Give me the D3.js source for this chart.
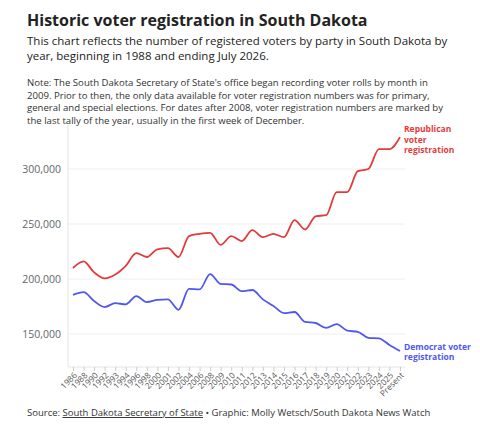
<!DOCTYPE html><html><head><meta charset="utf-8">
<script src="https://cdn.jsdelivr.net/npm/d3@7"></script>
<style>body{margin:0;background:#fff;font-family:"Open Sans",sans-serif}</style></head><body>
<svg id="c" width="480" height="425"></svg>
<script>
const categories=["1986","1988","1990","1992","1993","1994","1996","1998","2000","2001","2002","2004","2006","2008","2009","2010","2011","2012","2013","2014","2015","2016","2017","2018","2019","2020","2021","2022","2023","2024","2025","Present"];
const republican=[210000,216000,206000,200500,204000,212000,223500,220000,227000,228000,220000,239000,241000,242000,231000,239000,234500,244500,238000,241000,238000,253500,245000,257000,258000,279000,279000,298000,300000,318000,318000,329000];
const democrat=[185500,188000,180000,174500,178000,177000,184500,179000,181000,181500,172000,191000,190500,204500,195500,195000,189000,190000,181500,175500,169000,170000,161000,160000,155500,159000,153000,152000,146500,146000,140000,134500];
const yTicks=[150000,200000,250000,300000];
const svg=d3.select("#c");
const x=d3.scalePoint().domain(categories).range([73,400]);
const y=d3.scaleLinear().domain([120000,340000]).range([367,125]);
const t=(s,xx,yy,sz,w,c)=>svg.append("text").attr("x",xx).attr("y",yy).attr("font-size",sz).attr("font-weight",w||400).attr("fill",c||"#222").text(s);
t("Historic voter registration in South Dakota",27,26,16,700,"#222");
["This chart reflects the number of registered voters by party in South Dakota by","year, beginning in 1988 and ending July 2026."].forEach((s,i)=>t(s,27,45+i*15,11.5,400,"#222"));
["Note: The South Dakota Secretary of State's office began recording voter rolls by month in","2009. Prior to then, the only data available for voter registration numbers was for primary,","general and special elections. For dates after 2008, voter registration numbers are marked by","the last tally of the year, usually in the first week of December."].forEach((s,i)=>t(s,27,86+i*12.5,9.6,400,"#333"));
const g=svg.append("g");
yTicks.forEach(v=>{g.append("line").attr("x1",68).attr("x2",405).attr("y1",y(v)).attr("y2",y(v)).attr("stroke","#eee");
 g.append("text").attr("x",61).attr("y",y(v)+4).attr("text-anchor","end").attr("font-size",10.5).attr("fill","#666").text(d3.format(",")(v));});
g.append("line").attr("x1",68).attr("x2",68).attr("y1",125).attr("y2",367).attr("stroke","#e5e5e5");
const ax=svg.append("g").attr("transform","translate(0,367)").call(d3.axisBottom(x).tickSize(4).tickSizeOuter(0));
ax.select(".domain").attr("stroke","#e5e5e5").attr("d","M68,0H405");
ax.selectAll(".tick line").attr("stroke","#ccc");
ax.selectAll("text").attr("font-size",8.3).attr("fill","#555").attr("font-family","Open Sans").attr("text-anchor","end").attr("x",0).attr("y",0).attr("dy",0).attr("transform","translate(4,9) rotate(-45)");
const line=d3.line().x((d,i)=>x(categories[i])).y(d=>y(d)).curve(d3.curveMonotoneX);
svg.append("path").attr("d",line(republican)).attr("fill","none").attr("stroke","#e33b3b").attr("stroke-width",1.8);
svg.append("path").attr("d",line(democrat)).attr("fill","none").attr("stroke","#4f57f0").attr("stroke-width",1.8);
["Republican","voter","registration"].forEach((s,i)=>t(s,404,132+i*10.5,8.5,700,"#e33b3b"));
["Democrat voter","registration"].forEach((s,i)=>t(s,404,350+i*10,8.5,700,"#4f57f0"));
const s=svg.append("text").attr("x",27).attr("y",416).attr("font-size",9.5).attr("fill","#333");
s.append("tspan").text("Source: ");
s.append("tspan").attr("text-decoration","underline").text("South Dakota Secretary of State");
s.append("tspan").text(" • Graphic: Molly Wetsch/South Dakota News Watch");
</script></body></html>
